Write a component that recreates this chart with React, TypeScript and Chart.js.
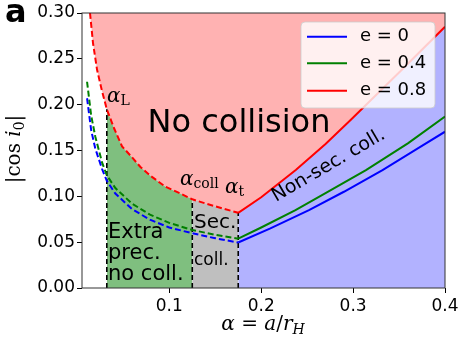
import React, { useEffect, useRef } from "react";
import { Chart, registerables } from "chart.js";
Chart.register(...registerables);

// Boundaries (alpha values)
const alphaL = 0.032;
const alphaColl = 0.125;
const alphaT = 0.175;

// e = 0.8 curve
const redAlpha = [0.0137, 0.017, 0.0214, 0.0265, 0.032, 0.04, 0.0486, 0.0586, 0.0686, 0.08, 0.0958, 0.11, 0.125, 0.14, 0.158, 0.175, 0.2, 0.2376, 0.27, 0.297, 0.35, 0.4];
const redCos = [0.3, 0.267, 0.238, 0.216, 0.195, 0.174, 0.1545, 0.1435, 0.132, 0.122, 0.1105, 0.104, 0.0968, 0.092, 0.0868, 0.082, 0.099, 0.1287, 0.157, 0.183, 0.235, 0.285];

// e = 0.4 curve
const greenAlpha = [0.0105, 0.015, 0.0195, 0.0268, 0.032, 0.0413, 0.0595, 0.079, 0.1, 0.125, 0.15, 0.175, 0.2, 0.2373, 0.27, 0.314, 0.36, 0.4];
const greenCos = [0.225, 0.188, 0.165, 0.137, 0.123, 0.109, 0.092, 0.08, 0.071, 0.0633, 0.058, 0.0538, 0.066, 0.085, 0.1035, 0.1287, 0.158, 0.187];

// e = 0 curve
const blueAlpha = [0.0105, 0.015, 0.0195, 0.0268, 0.032, 0.0413, 0.0595, 0.079, 0.1, 0.125, 0.15, 0.175, 0.21, 0.252, 0.29, 0.332, 0.37, 0.4];
const blueCos = [0.207, 0.172, 0.152, 0.13, 0.117, 0.103, 0.086, 0.0745, 0.066, 0.0597, 0.0543, 0.0496, 0.065, 0.085, 0.105, 0.1287, 0.152, 0.1705];

const xTicks = [0.1, 0.2, 0.3, 0.4];
const yTicks = [0, 0.05, 0.1, 0.15, 0.2, 0.25, 0.3];
const legendLabels = ["e = 0", "e = 0.4", "e = 0.8"];
const legendColors = ["#0000ff", "#008000", "#ff0000"];

const SANS = "'DejaVu Sans', sans-serif";
const SERIF = "'DejaVu Serif', serif";

type Run = { t: string; font: string; dy?: number };

function drawRuns(ctx: CanvasRenderingContext2D, runs: Run[], x: number, y: number, align: "left" | "center") {
  ctx.textAlign = "left";
  ctx.textBaseline = "alphabetic";
  let w = 0;
  for (const r of runs) {
    ctx.font = r.font;
    w += ctx.measureText(r.t).width;
  }
  let cx = align === "center" ? x - w / 2 : x;
  for (const r of runs) {
    ctx.font = r.font;
    ctx.fillText(r.t, cx, y + (r.dy || 0));
    cx += ctx.measureText(r.t).width;
  }
}

const pts = (xs: number[], ys: number[]) => xs.map((x, i) => ({ x, y: ys[i] }));

export default function App() {
  const ref = useRef<HTMLCanvasElement>(null);
  useEffect(() => {
    const canvas = ref.current!;
    const red = pts(redAlpha, redCos);
    const between = (a: number, b: number) => red.filter((p) => p.x >= a - 1e-9 && p.x <= b + 1e-9);
    const redAt = (a: number) => red.find((p) => Math.abs(p.x - a) < 1e-9)!.y;
    const dashSeg = { borderDash: (c: any) => (c.p1.parsed.x <= alphaT + 1e-9 ? [6, 3] : []) };

    const fillBase = { borderWidth: 0, pointRadius: 0, tension: 0, order: 10 };
    const vline = (a: number) => ({
      data: [
        { x: a, y: 0 },
        { x: a, y: redAt(a) },
      ],
      borderColor: "#000",
      borderWidth: 1.6,
      borderDash: [5, 3],
      pointRadius: 0,
      fill: false,
      order: 5,
    });

    const overlay = {
      id: "overlay",
      afterDatasetsDraw(chart: any) {
        const ctx: CanvasRenderingContext2D = chart.ctx;
        const { left, right, top, bottom } = chart.chartArea;
        ctx.save();
        // frame
        ctx.strokeStyle = "#333";
        ctx.lineWidth = 1;
        ctx.setLineDash([]);
        ctx.strokeRect(left, top, right - left, bottom - top);

        ctx.fillStyle = "#000";
        // No collision
        ctx.font = `32px ${SANS}`;
        ctx.textAlign = "center";
        ctx.textBaseline = "alphabetic";
        ctx.fillText("No collision", 239, 132);

        // alpha labels
        drawRuns(ctx, [
          { t: "α", font: `italic 20px ${SERIF}` },
          { t: "L", font: `14px ${SERIF}`, dy: 3 },
        ], 107, 102, "left");
        drawRuns(ctx, [
          { t: "α", font: `italic 20px ${SERIF}` },
          { t: "coll", font: `14px ${SERIF}`, dy: 2.5 },
        ], 180, 185, "left");
        drawRuns(ctx, [
          { t: "α", font: `italic 20px ${SERIF}` },
          { t: "t", font: `14px ${SERIF}`, dy: 3 },
        ], 225, 193, "left");

        // region labels
        ctx.textAlign = "left";
        ctx.font = `21px ${SANS}`;
        ctx.fillText("Extra", 108, 238);
        ctx.fillText("prec.", 108, 259);
        ctx.fillText("no coll.", 108, 280);
        ctx.font = `20px ${SANS}`;
        ctx.fillText("Sec.", 194, 228);
        ctx.font = `17px ${SANS}`;
        ctx.fillText("coll.", 194, 265);

        // rotated label
        ctx.save();
        ctx.translate(276, 202);
        ctx.rotate((-30.3 * Math.PI) / 180);
        ctx.font = `19px ${SANS}`;
        ctx.fillText("Non-sec. coll.", 0, 0);
        ctx.restore();

        // legend
        const bx = 301, by = 22, bw = 134, bh = 86;
        ctx.beginPath();
        (ctx as any).roundRect(bx, by, bw, bh, 4);
        ctx.fillStyle = "rgba(255,255,255,0.8)";
        ctx.fill();
        ctx.strokeStyle = "rgba(204,204,204,0.8)";
        ctx.lineWidth = 1;
        ctx.stroke();
        const ly = [36.7, 63.3, 90.7];
        legendLabels.forEach((lab, i) => {
          ctx.beginPath();
          ctx.strokeStyle = legendColors[i];
          ctx.lineWidth = 2;
          ctx.moveTo(307, ly[i]);
          ctx.lineTo(347, ly[i]);
          ctx.stroke();
          ctx.fillStyle = "#000";
          ctx.font = `18px ${SANS}`;
          ctx.textAlign = "left";
          ctx.textBaseline = "middle";
          ctx.fillText(lab, 360, ly[i]);
        });
        ctx.restore();
      },
      afterDraw(chart: any) {
        const ctx: CanvasRenderingContext2D = chart.ctx;
        ctx.save();
        ctx.fillStyle = "#000";
        // panel letter
        ctx.font = `bold 32px ${SANS}`;
        ctx.textAlign = "left";
        ctx.textBaseline = "alphabetic";
        ctx.fillText("a", 5, 22);
        // x label
        drawRuns(ctx, [
          { t: "α", font: `italic 20px ${SERIF}` },
          { t: " = ", font: `20px ${SERIF}` },
          { t: "a", font: `italic 20px ${SERIF}` },
          { t: "/", font: `20px ${SERIF}` },
          { t: "r", font: `italic 20px ${SERIF}` },
          { t: "H", font: `italic 14px ${SERIF}`, dy: 4 },
        ], 263, 330, "center");
        // y label
        ctx.save();
        ctx.translate(20, 149);
        ctx.rotate(-Math.PI / 2);
        drawRuns(ctx, [
          { t: "|", font: `20px ${SERIF}` },
          { t: "cos ", font: `20px ${SERIF}` },
          { t: "i", font: `italic 20px ${SERIF}` },
          { t: "0", font: `14px ${SERIF}`, dy: 4 },
          { t: "|", font: `20px ${SERIF}` },
        ], 0, 0, "center");
        ctx.restore();
        ctx.restore();
      },
    };

    const chart = new Chart(canvas, {
      type: "line",
      data: {
        datasets: [
          { label: "e = 0.8", data: red, borderColor: "#ff0000", borderWidth: 2, pointRadius: 0, tension: 0, fill: false, segment: dashSeg, order: 1 },
          { label: "e = 0.4", data: pts(greenAlpha, greenCos), borderColor: "#008000", borderWidth: 2, pointRadius: 0, tension: 0, fill: false, segment: dashSeg, order: 2 },
          { label: "e = 0", data: pts(blueAlpha, blueCos), borderColor: "#0000ff", borderWidth: 2, pointRadius: 0, tension: 0, fill: false, segment: dashSeg, order: 3 },
          vline(alphaL),
          vline(alphaColl),
          vline(alphaT),
          { ...fillBase, data: red, fill: "end", backgroundColor: "rgba(255,0,0,0.3)" },
          { ...fillBase, data: between(alphaL, alphaColl), fill: "origin", backgroundColor: "rgba(0,128,0,0.5)" },
          { ...fillBase, data: between(alphaColl, alphaT), fill: "origin", backgroundColor: "rgba(128,128,128,0.5)" },
          { ...fillBase, data: between(alphaT, 0.4), fill: "origin", backgroundColor: "rgba(0,0,255,0.3)" },
        ] as any,
      },
      options: {
        animation: false,
        responsive: false,
        devicePixelRatio: 1,
        events: [],
        layout: { padding: { top: 13, right: 19, left: 0, bottom: 0 } },
        plugins: {
          legend: { display: false },
          tooltip: { enabled: false },
          filler: { drawTime: "beforeDatasetsDraw" } as any,
        },
        scales: {
          x: {
            type: "linear",
            min: 0.005,
            max: 0.4,
            afterBuildTicks: (s: any) => {
              s.ticks = xTicks.map((v) => ({ value: v }));
            },
            afterFit: (s: any) => {
              s.height = 51;
            },
            ticks: { color: "#000", font: { family: SANS, size: 17 }, padding: 3, autoSkip: false, maxRotation: 0, callback: (v: any) => Number(v).toFixed(1) },
            grid: { display: true, drawOnChartArea: false, drawTicks: true, tickLength: 5, color: "#000" },
            border: { display: false },
          },
          y: {
            type: "linear",
            min: 0,
            max: 0.3,
            afterBuildTicks: (s: any) => {
              s.ticks = yTicks.map((v) => ({ value: v }));
            },
            afterFit: (s: any) => {
              s.width = 82;
            },
            ticks: { color: "#000", font: { family: SANS, size: 17 }, padding: 2, autoSkip: false, callback: (v: any) => Number(v).toFixed(2) },
            grid: { display: true, drawOnChartArea: false, drawTicks: true, tickLength: 5, color: "#000" },
            border: { display: false },
          },
        },
      },
      plugins: [overlay],
    });
    return () => chart.destroy();
  }, []);
  return (
    <div style={{ position: "absolute", left: 0, top: 0, width: 464, height: 339 }}>
      <canvas ref={ref} width={464} height={339} style={{ display: "block", width: 464, height: 339 }} />
    </div>
  );
}
